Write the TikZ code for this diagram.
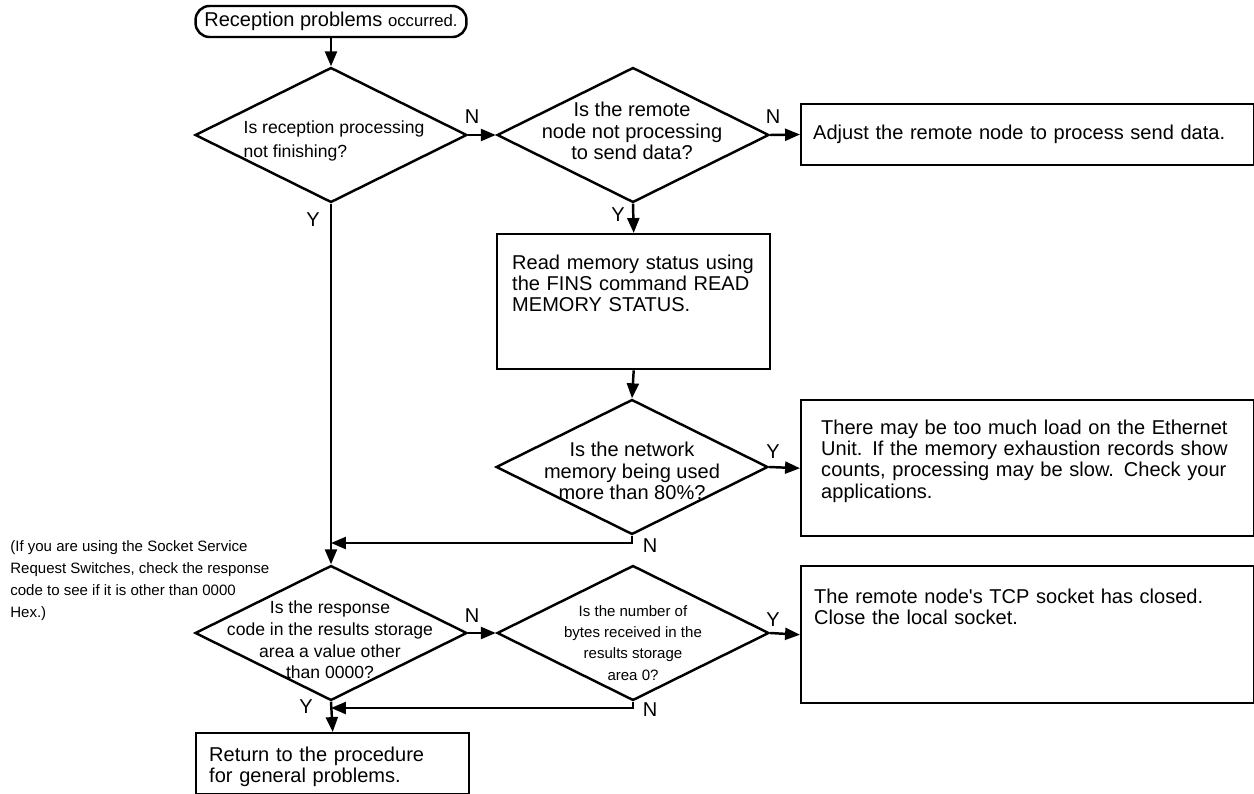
\documentclass[tikz,border=0pt]{standalone}
\usepackage{fontspec}
\setmainfont{Liberation Sans}
\usepackage{tikz}
\usetikzlibrary{arrows.meta, positioning, shapes.geometric}
\newcommand{\bodyfont}{\fontsize{11.4}{12.1}\selectfont}
\newcommand{\midfont}{\fontsize{10}{12.3}\selectfont}
\newcommand{\smallfont}{\fontsize{8.55}{12}\selectfont}
\newcommand{\notefont}{\fontsize{8.55}{12.5}\selectfont}

\begin{document}
\begin{tikzpicture}[x=0.02cm, y=-0.02cm,
      startbox/.style={draw, rounded corners=8pt, line width=1.4pt, minimum width=5.42cm,
                       minimum height=0.62cm, inner sep=0pt, font=\bodyfont},
      decision/.style={draw, diamond, line width=1.4pt, inner sep=0pt,
                       minimum width=5.44cm, minimum height=2.7cm},
      dtext/.style={align=center, inner sep=0pt, font=\bodyfont},
      textbox/.style={draw, line width=1.4pt, align=left, anchor=north west,
                      inner ysep=0pt, font=\bodyfont},
      arrow/.style={-{Triangle[length=8.5pt, width=6.8pt]}, line width=1.4pt},
      yn/.style={inner sep=0pt, font=\bodyfont}
    ]
    \useasboundingbox (0,0) rectangle (1254,794);

    % start and first row
    \node[startbox] (start) at (331,21.5) {Reception problems {\fontsize{9.5}{11}\selectfont occurred.}};
    \node[decision] (recv) at (331,135) {};
    \node[dtext, align=left, font=\fontsize{10}{13.6}\selectfont] (recvq) at (334,141)
      {Is reception processing\\not finishing?};
    \node[decision] (remote) at (633,135) {};
    \node[dtext] (remoteq) at (632,131) {Is the remote\\node not processing\\to send data?};
    \node[textbox, anchor=west, text width=8.58cm, inner xsep=0.24cm, minimum height=1.22cm]
      (adjust) at (800,134.5) {Adjust the remote node to process send data.};

    % memory check
    \node[textbox, text width=4.86cm, inner xsep=0.3cm, text height=0.7cm, text depth=2.0cm]
      (readmem) at (496,233) {Read memory status using\\the FINS command READ\\MEMORY STATUS.};
    \node[decision] (netmem) at (632,467) {};
    \node[dtext] (netmemq) at (632,471) {Is the network\\memory being used\\more than 80\%?};
    \node[textbox, text width=8.26cm, inner xsep=0.4cm, text height=0.68cm, text depth=2.04cm]
      (load) at (800,399) {There may be too much load on the Ethernet\\Unit. If the memory exhaustion records show\\counts, processing may be slow. Check your\\applications.};

    % response code check
    \node[decision] (resp) at (331,633) {};
    \node[dtext, font=\midfont] (respq) at (330,640) {Is the response\\code in the results storage\\area a value other\\than 0000?};
    \node[decision] (bytes) at (633,633) {};
    \node[dtext, font=\smallfont] (bytesq) at (633,643) {Is the number of\\bytes received in the\\results storage\\area 0?};
    \node[textbox, text width=8.54cm, inner xsep=0.26cm, text height=0.74cm, text depth=2.0cm]
      (tcp) at (800,565) {The remote node\textquotesingle s TCP socket has closed.\\Close the local socket.};
    \node[textbox, text width=4.94cm, inner xsep=0.26cm, text height=0.56cm, text depth=0.66cm]
      (ret) at (195,732) {Return to the procedure\\for general problems.};

    \node[anchor=north west, align=left, inner sep=0pt, font=\notefont] (note) at (10,540)
      {(If you are using the Socket Service\\Request Switches, check the response\\code to see if it is other than 0000\\Hex.)};

    % Y / N marks
    \node[yn] (n1) at (472,117) {N};
    \node[yn] (n2) at (773,117) {N};
    \node[yn] (y1) at (313,220) {Y};
    \node[yn] (y2) at (618,215) {Y};
    \node[yn] (y3) at (773,452) {Y};
    \node[yn] (n3) at (650,546) {N};
    \node[yn] (n4) at (472,616) {N};
    \node[yn] (y4) at (773,620) {Y};
    \node[yn] (n5) at (650,710) {N};
    \node[yn] (y5) at (306,707) {Y};

    \coordinate (merge1) at (331,543);
    \coordinate (merge2) at (331,708);

    \draw[arrow] (start.south) -- (recv.north);
    \draw[arrow] (recv.east) -- (remote.west);
    \draw[arrow] (remote.east) -- (adjust.west);
    \draw[arrow] (remote.south) -- (readmem.north);
    \draw[arrow] (readmem.south) -- (netmem.north);
    \draw[arrow] (netmem.east) -- (load.west);
    \draw[arrow] (netmem.south) |- (merge1);
    \draw[arrow] (recv.south) -- (resp.north);
    \draw[arrow] (resp.east) -- (bytes.west);
    \draw[arrow] (bytes.east) -- (tcp.west);
    \draw[arrow] (bytes.south) |- (merge2);
    \draw[arrow] (resp.south) -- (ret.north);
  \end{tikzpicture}
\end{document}
